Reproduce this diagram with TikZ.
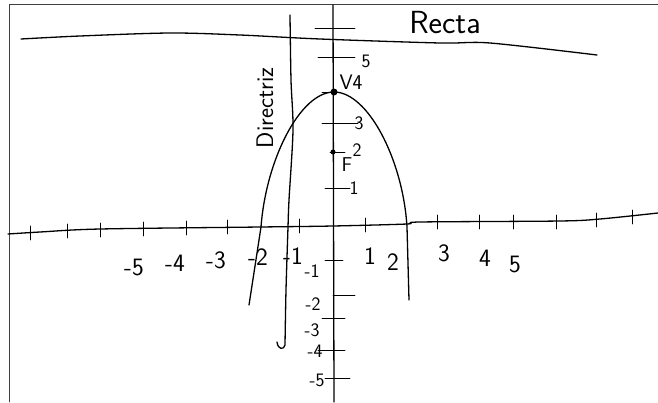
\documentclass[tikz,border=0pt]{standalone}
\usetikzlibrary{positioning}
\tikzset{
  pen/.style={line width=1.3pt,line cap=round,line join=round},
  thinpen/.style={line width=0.8pt,line cap=round},
  axnum/.style={inner sep=0pt,font=\sffamily\fontsize{25}{25}\selectfont},
  ynum/.style={inner sep=0pt,font=\sffamily\fontsize{19}{19}\selectfont},
  word/.style={inner sep=0pt,font=\sffamily\fontsize{24}{24}\selectfont}
}
\begin{document}
\begin{tikzpicture}[x=1pt,y=-1pt]
  \useasboundingbox (0,0) rectangle (658,402);
  % frame
  \draw[thinpen,black!75] (9,402) -- (9,4) -- (658,4);
  % recta
  \draw[pen] plot[smooth] coordinates {(21,39) (80,36) (170,33) (240,35) (320,39) (440,43) (490,43) (597,55)};
  \node[word,font=\sffamily\fontsize{32}{32}\selectfont] (recta) at (445,23) {Recta};
  % axes
  \draw[pen] plot[smooth] coordinates {(8,234) (40,232) (100,229) (260,227) (333,226) (407,224) (420,222) (560,221) (600,219) (658,213)};
  \draw[pen] (333,5) -- (334,402);
  \foreach \x/\y in {30/233,67/231,100/230,143/229,186/228,227/227,299/226,365/225,437/222,479/222,513/222,556/222,596/220,632/217}
    \draw[thinpen] (\x,\y-7) -- (\x,\y+7);
  \foreach \y/\a/\b in {28/315/355,57/318/355,92/322/336,123/322/358,152/330/345,188/325/350,260/325/343,295/333/355,318/322/345,350/318/345,378/325/350}
    \draw[thinpen] (\a,\y) -- (\b,\y);
  % numbers
  \foreach \n/\t/\x/\y in {m5/-5/134/267,m4/-4/175/263,m3/-3/216/260,m2/-2/258/257,m1/-1/293/256,p1/1/370/256,p2/2/393/262,p3/3/444/253,p4/4/485/258,p5/5/515/264}
    \node[axnum] (x\n) at (\x,\y) {\t};
  \foreach \n/\t/\x/\y in {p5/5/366/61,p3/3/359/123,p2/2/357/150,p1/1/354/188,m1/-1/312/271,m2/-2/313/304,m3/-3/312/330,m4/-4/315/351,m5/-5/317/380}
    \node[ynum] (y\n) at (\x,\y) {\t};
  % parabola
  \draw[pen] (249,305) -- (261,227) .. controls (266,160) and (300,92) .. (334,92)
    .. controls (368,92) and (403,160) .. (407,227) -- (409,300);
  \fill (334,92) circle (3.5);
  \fill (333,152) circle (2.5);
  \node[ynum,font=\sffamily\fontsize{21}{21}\selectfont] (vert) at (351,82) {V4};
  \node[ynum,font=\sffamily\fontsize{20}{20}\selectfont] (foco) at (347,165) {F};
  % directriz
  \draw[pen] plot[smooth] coordinates {(290,15) (291,80) (293,130) (289,200) (288,227) (286,290) (285,345)} .. controls (284,350) and (278,350) .. (277,342);
  \node[word,rotate=90] (dirz) at (265,108) {Directriz};
\end{tikzpicture}
\end{document}
